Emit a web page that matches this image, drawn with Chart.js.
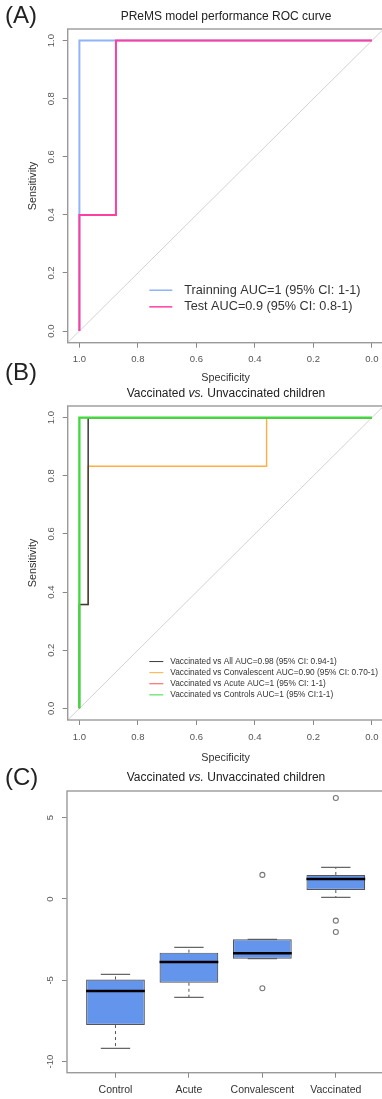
<!DOCTYPE html>
<html lang="en">
<head>
<meta charset="UTF-8">
<title>PReMS ROC curves and boxplot</title>
<script src="https://cdn.jsdelivr.net/npm/chart.js"></script>
<style>
  body { margin: 0; background: #fff; overflow: hidden; font-family: "Liberation Sans", Arial, sans-serif; color: #222; }
  .page { position: relative; width: 382px; height: 1099px; overflow: hidden; }
  canvas { position: absolute; left: 0; }
  .tag { position: absolute; left: 5px; font-size: 24px; line-height: 28px; }
  .title { position: absolute; left: 68px; width: 316px; text-align: center; font-size: 12px; line-height: 14px; }
</style>
</head>
<body>
<div class="page">
  <canvas id="chartA" width="400" height="385" style="top:0"></canvas>
  <canvas id="chartB" width="400" height="385" style="top:385px"></canvas>
  <canvas id="chartC" width="400" height="329" style="top:770px"></canvas>
  <div class="tag" style="top:1px">(A)</div>
  <div class="title" style="top:9px">PReMS model performance ROC curve</div>
  <div class="tag" style="top:358px">(B)</div>
  <div class="title" style="top:386px">Vaccinated <i>vs.</i> Unvaccinated children</div>
  <div class="tag" style="top:763px">(C)</div>
  <div class="title" style="top:770px">Vaccinated <i>vs.</i> Unvaccinated children</div>
</div>

<script>
// ---- data ----
// (A) ROC points, specificity / sensitivity
const trainSpec = [1, 1, 0];
const trainSens = [0, 1, 1];
const testSpec = [1, 1, 0.875, 0.875, 0];
const testSens = [0, 0.4, 0.4, 1, 1];
const legendA = ['Trainning AUC=1 (95% CI: 1-1)', 'Test AUC=0.9 (95% CI: 0.8-1)'];

// (B)
const allSpec = [1, 1, 0.97, 0.97, 0];
const allSens = [0, 0.357, 0.357, 1, 1];
const convSpec = [1, 1, 0.97, 0.97, 0.36, 0.36, 0];
const convSens = [0, 0.357, 0.357, 0.833, 0.833, 1, 1];
const acuteSpec = [1, 1, 0];
const acuteSens = [0, 1, 1];
const ctrlSpec = [1, 1, 0];
const ctrlSens = [0, 1, 1];
const legendB = [
    'Vaccinated vs All AUC=0.98 (95% CI: 0.94-1)',
    'Vaccinated vs Convalescent AUC=0.90 (95% CI: 0.70-1)',
    'Vaccinated vs Acute AUC=1 (95% CI: 1-1)',
    'Vaccinated vs Controls AUC=1 (95% CI:1-1)'
];
const rocTicks = [1.0, 0.8, 0.6, 0.4, 0.2, 0.0];

// (C) boxplot stats
const groups = ['Control', 'Acute', 'Convalescent', 'Vaccinated'];
const whiskerLow = [-9.18, -6.05, -3.67, 0.10];
const q1 = [-7.75, -5.15, -3.67, 0.55];
const median = [-5.66, -3.87, -3.34, 1.23];
const q3 = [-4.95, -3.30, -2.48, 1.48];
const whiskerHigh = [-4.63, -2.97, -2.48, 1.95];
const outliers = [[], [], [1.48, -5.49], [6.21, -1.33, -2.03]];
const boxTicks = [5, 0, -5, -10];

// ---- shared setup ----
const FAMILY = '"Liberation Sans", Arial, sans-serif';
Chart.defaults.font.family = FAMILY;
const tickFont = { family: FAMILY, size: 9.5 };
const axisFont = { family: FAMILY, size: 10.8 };
const rocMin = -0.04, rocMax = 1.04;
const boxWidth = 0.8;

const toPoints = (xs, ys) => xs.map((x, i) => ({ x: x, y: ys[i] }));

function rocLine(label, pts, color, width, order) {
    return { label: label, data: pts, borderColor: color, borderWidth: width,
             showLine: true, pointRadius: 0, order: order, tension: 0 };
}

const framePlugin = {
    id: 'frame',
    afterDatasetsDraw(chart) {
        const { ctx, chartArea: a } = chart;
        ctx.save();
        ctx.strokeStyle = '#9a9a9a';
        ctx.lineWidth = 1.4;
        ctx.strokeRect(a.left, a.top, a.right - a.left, a.bottom - a.top);
        ctx.restore();
    }
};

// legend drawn inside the plot, anchored in data units
const legendPlugin = {
    id: 'rocLegend',
    afterDatasetsDraw(chart, args, opts) {
        const { ctx, scales } = chart;
        const left = scales.x.getPixelForValue(opts.atX);
        let rowY = scales.y.getPixelForValue(opts.atY);
        ctx.save();
        ctx.font = opts.fontSize + 'px ' + FAMILY;
        ctx.textBaseline = 'middle';
        chart.data.datasets.forEach(ds => {
            if (!ds.label) return;
            ctx.strokeStyle = ds.borderColor;
            ctx.lineWidth = opts.lineWidth;
            ctx.beginPath();
            ctx.moveTo(left, rowY);
            ctx.lineTo(left + opts.lineLen, rowY);
            ctx.stroke();
            ctx.fillStyle = '#333';
            ctx.fillText(ds.label, left + opts.lineLen + opts.gap, rowY);
            rowY += opts.rowHeight;
        });
        ctx.restore();
    }
};

function rocScales(xAxisHeight, titlePadBottom) {
    return {
        x: {
            type: 'linear', reverse: true, min: rocMin, max: rocMax,
            afterBuildTicks: s => { s.ticks = rocTicks.map(v => ({ value: v })); },
            afterFit: s => { s.height = xAxisHeight; },
            ticks: { callback: v => v.toFixed(1), font: tickFont, color: '#555', padding: 6.3, maxRotation: 0, autoSkip: false },
            grid: { drawOnChartArea: false, tickLength: 5, color: '#888' },
            border: { display: false },
            title: { display: true, text: 'Specificity', font: axisFont, color: '#333', padding: { top: 0, bottom: titlePadBottom } }
        },
        y: {
            type: 'linear', min: rocMin, max: rocMax,
            afterBuildTicks: s => { s.ticks = rocTicks.map(v => ({ value: v })); },
            afterFit: s => { s.width = 67.7; },
            ticks: { callback: v => v.toFixed(1), font: tickFont, color: '#555', padding: 4.4,
                     minRotation: 90, maxRotation: 90, crossAlign: 'center', autoSkip: false },
            grid: { drawOnChartArea: false, tickLength: 5, color: '#888' },
            border: { display: false },
            title: { display: true, text: 'Sensitivity', font: axisFont, color: '#333', padding: { top: 26.5, bottom: 0 } }
        }
    };
}

// ---- (A) ----
new Chart(document.getElementById('chartA'), {
    type: 'scatter',
    data: {
        datasets: [
            rocLine(legendA[0], toPoints(trainSpec, trainSens), '#8fb4f7', 2, 2),
            rocLine(legendA[1], toPoints(testSpec, testSens), '#ff3f9f', 2, 1),
            rocLine(undefined, toPoints([rocMax, rocMin], [1 - rocMax, 1 - rocMin]), '#d2d2d2', 1, 3)
        ]
    },
    options: {
        responsive: false,
        animation: false,
        layout: { padding: { top: 29, right: 16.4, bottom: 0, left: 0 } },
        scales: rocScales(42.3, 0.8),
        plugins: {
            legend: { display: false },
            tooltip: { enabled: false },
            rocLegend: { atX: 0.761, atY: 0.1406, fontSize: 12.7, lineLen: 23, gap: 12, rowHeight: 16.6, lineWidth: 1.5 }
        }
    },
    plugins: [framePlugin, legendPlugin]
});

// ---- (B) ----
new Chart(document.getElementById('chartB'), {
    type: 'scatter',
    data: {
        datasets: [
            rocLine(legendB[0], toPoints(allSpec, allSens), '#3a3a3a', 1.5, 3),
            rocLine(legendB[1], toPoints(convSpec, convSens), '#ffae42', 1.4, 4),
            rocLine(legendB[2], toPoints(acuteSpec, acuteSens), '#ff5050', 1.1, 2),
            rocLine(legendB[3], toPoints(ctrlSpec, ctrlSens), '#3ddc3d', 2.3, 1),
            rocLine(undefined, toPoints([rocMax, rocMin], [1 - rocMax, 1 - rocMin]), '#d2d2d2', 1, 5)
        ]
    },
    options: {
        responsive: false,
        animation: false,
        layout: { padding: { top: 21, right: 16.4, bottom: 0, left: 0 } },
        scales: rocScales(50, 5.5),
        plugins: {
            legend: { display: false },
            tooltip: { enabled: false },
            rocLegend: { atX: 0.761, atY: 0.161, fontSize: 8.3, lineLen: 14, gap: 7, rowHeight: 11.1, lineWidth: 1 }
        }
    },
    plugins: [framePlugin, legendPlugin]
});

// ---- (C) boxplot built from bars and line segments ----
const half = boxWidth / 2, capHalf = boxWidth / 4;
const segs = (fn) => groups.flatMap((g, i) => fn(i + 1, i).concat([{ x: i + 1, y: null }]));

new Chart(document.getElementById('chartC'), {
    type: 'bar',
    data: {
        datasets: [
            { type: 'line', data: groups.flatMap((g, i) => [
                    { x: i + 1, y: q3[i] }, { x: i + 1, y: whiskerHigh[i] }, { x: i + 1, y: null },
                    { x: i + 1, y: q1[i] }, { x: i + 1, y: whiskerLow[i] }, { x: i + 1, y: null }]),
              borderColor: '#555', borderWidth: 1, borderDash: [3, 3], pointRadius: 0, order: 5 },
            { type: 'line', data: groups.flatMap((g, i) => [
                    { x: i + 1 - capHalf, y: whiskerHigh[i] }, { x: i + 1 + capHalf, y: whiskerHigh[i] }, { x: i + 1, y: null },
                    { x: i + 1 - capHalf, y: whiskerLow[i] }, { x: i + 1 + capHalf, y: whiskerLow[i] }, { x: i + 1, y: null }]),
              borderColor: '#666', borderWidth: 1.2, pointRadius: 0, order: 4 },
            { type: 'bar', data: groups.map((g, i) => ({ x: i + 1, y: [q1[i], q3[i]] })),
              backgroundColor: '#6495ed', borderColor: '#555', borderWidth: 1.2, borderSkipped: false,
              categoryPercentage: boxWidth, barPercentage: 1, order: 3 },
            { type: 'line', data: segs((x, i) => [{ x: x - half, y: median[i] }, { x: x + half, y: median[i] }]),
              borderColor: '#000', borderWidth: 2.5, pointRadius: 0, order: 1 },
            { type: 'line', data: groups.flatMap((g, i) => outliers[i].map(v => ({ x: i + 1, y: v }))),
              showLine: false, pointRadius: 2.5, pointBorderWidth: 1.1, pointBorderColor: '#777',
              pointBackgroundColor: 'rgba(0,0,0,0)', order: 2 }
        ]
    },
    options: {
        responsive: false,
        animation: false,
        layout: { padding: { top: 21, right: 15.7, bottom: 0, left: 0 } },
        scales: {
            x: {
                type: 'linear', min: 0.34, max: 4.66, offset: false,
                afterBuildTicks: s => { s.ticks = groups.map((g, i) => ({ value: i + 1 })); },
                afterFit: s => { s.height = 26.3; },
                ticks: { callback: v => groups[v - 1], font: { family: FAMILY, size: 10.5 }, color: '#333',
                         padding: 6, maxRotation: 0, autoSkip: false },
                grid: { drawOnChartArea: false, tickLength: 5, color: '#888', offset: false },
                border: { display: false }
            },
            y: {
                type: 'linear', min: -10.68, max: 6.64,
                afterBuildTicks: s => { s.ticks = boxTicks.map(v => ({ value: v })); },
                afterFit: s => { s.width = 67; },
                ticks: { callback: v => String(v), font: tickFont, color: '#555', padding: 4.8,
                         minRotation: 90, maxRotation: 90, crossAlign: 'center', autoSkip: false },
                grid: { drawOnChartArea: false, tickLength: 5, color: '#888' },
                border: { display: false }
            }
        },
        plugins: { legend: { display: false }, tooltip: { enabled: false } }
    },
    plugins: [framePlugin]
});
</script>
</body>
</html>
